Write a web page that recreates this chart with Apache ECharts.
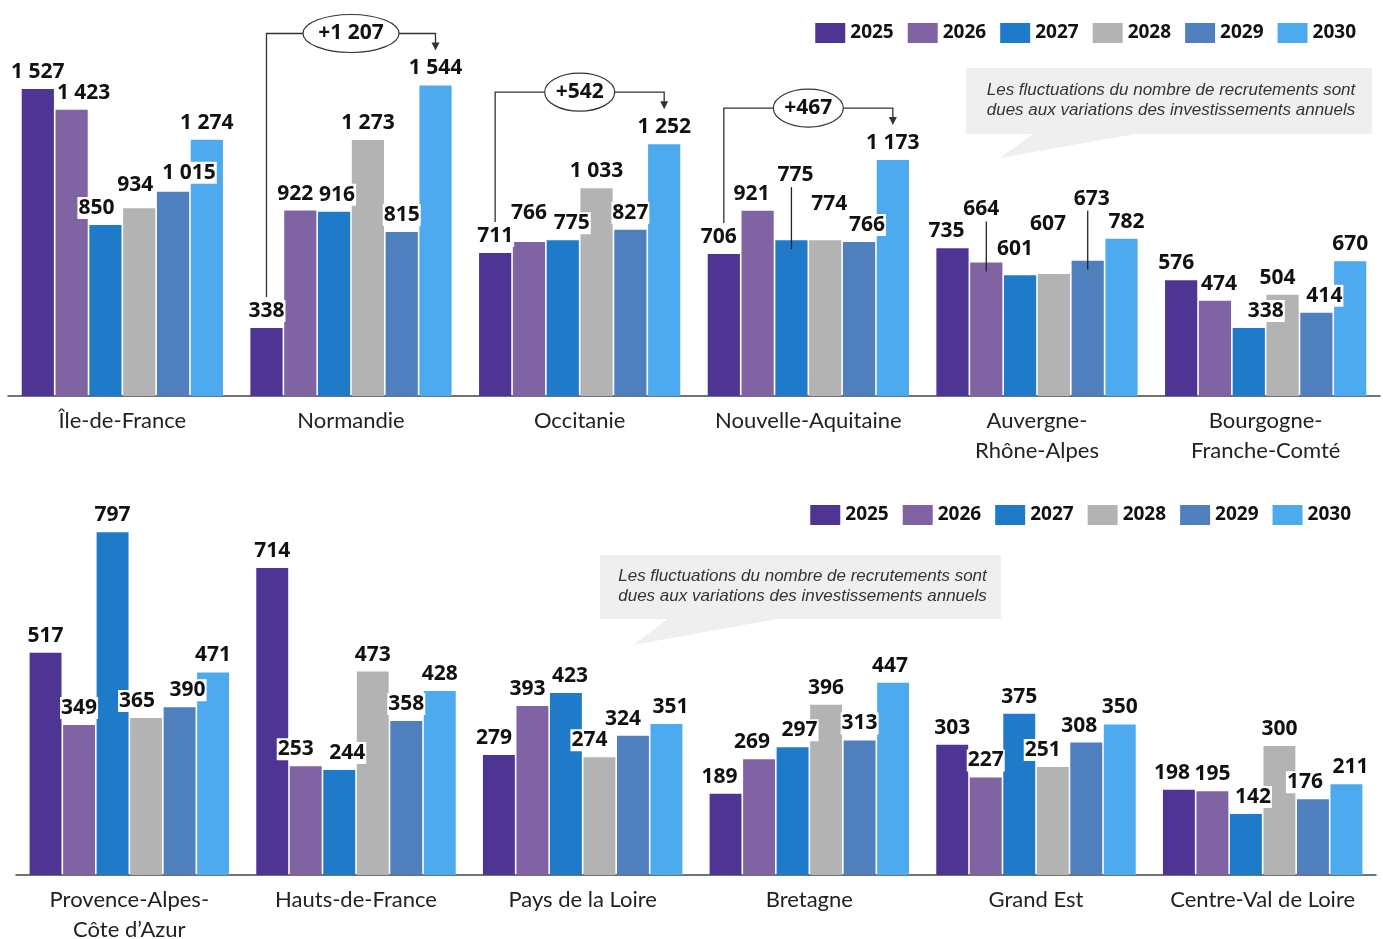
<!DOCTYPE html>
<html>
<head>
<meta charset="utf-8">
<script src="https://cdn.jsdelivr.net/npm/echarts@6/dist/echarts.min.js"></script>
<style>
html,body{margin:0;padding:0;background:#fff;}
#c{width:1383px;height:939px;}
</style>
</head>
<body>
<div id="c"></div>
<script>
// ---------- DATA ----------
const years = ['2025', '2026', '2027', '2028', '2029', '2030'];
const regionsTop = ['Île-de-France', 'Normandie', 'Occitanie', 'Nouvelle-Aquitaine', 'Auvergne-\nRhône-Alpes', 'Bourgogne-\nFranche-Comté'];
const regionsBottom = ['Provence-Alpes-\nCôte d’Azur', 'Hauts-de-France', 'Pays de la Loire', 'Bretagne', 'Grand Est', 'Centre-Val de Loire'];

const top2025 = [1527, 338, 711, 706, 735, 576];
const top2026 = [1423, 922, 766, 921, 664, 474];
const top2027 = [850, 916, 775, 775, 601, 338];
const top2028 = [934, 1273, 1033, 774, 607, 504];
const top2029 = [1015, 815, 827, 766, 673, 414];
const top2030 = [1274, 1544, 1252, 1173, 782, 670];

const bot2025 = [517, 714, 279, 189, 303, 198];
const bot2026 = [349, 253, 393, 269, 227, 195];
const bot2027 = [797, 244, 423, 297, 375, 142];
const bot2028 = [365, 473, 274, 396, 251, 300];
const bot2029 = [390, 358, 324, 313, 308, 176];
const bot2030 = [471, 428, 351, 447, 350, 211];

// annotated increases (region index in top panel, text)
const bracketRegionIdx = [1, 2, 3];
const bracketLabels = ['+1 207', '+542', '+467'];

const noteText = 'Les fluctuations du nombre de recrutements sont\ndues aux variations des investissements annuels';

// ---------- STYLE ----------
const colors = ['#4E3593', '#8063A2', '#1F7BC9', '#B3B3B3', '#4F80BD', '#4DAAEE'];
const topSeries = [top2025, top2026, top2027, top2028, top2029, top2030];
const botSeries = [bot2025, bot2026, bot2027, bot2028, bot2029, bot2030];

// label nudges: key "panel:series:category" -> dx/dy ; leader = draw a guide line
const nudges = {
  't:1:0': {dx: 12}, 't:2:0': {dx: -9}, 't:3:0': {dx: -4, dy: -6}, 't:4:0': {dx: 16, dy: -2},
  't:1:1': {dx: -5}, 't:2:1': {dx: 3},
  't:1:2': {dy: -12}, 't:2:2': {dx: 9},
  't:0:3': {dx: -5}, 't:1:3': {dx: -6}, 't:2:3': {dx: 4, dy: -48, leader: true}, 't:3:3': {dx: 4, dy: -19}, 't:4:3': {dx: 8},
  't:0:4': {dx: -6}, 't:1:4': {dx: -5, dy: -36, leader: true}, 't:2:4': {dx: -5, dy: -9},
  't:3:4': {dx: -6, dy: -33}, 't:4:4': {dx: 4, dy: -45, leader: true}, 't:5:4': {dx: 5},
  't:0:5': {dx: -5}, 't:1:5': {dx: 4}, 't:2:5': {dx: 17}, 't:3:5': {dx: -5}, 't:4:5': {dx: 8},
  'b:3:0': {dx: -9}, 'b:4:0': {dx: 8},
  'b:1:1': {dx: -10}, 'b:2:1': {dx: 8},
  'b:0:2': {dx: -5}, 'b:1:2': {dx: -5}, 'b:2:2': {dx: 4}, 'b:3:2': {dx: -10}, 'b:4:2': {dx: -10}, 'b:5:2': {dx: 4},
  'b:0:3': {dx: -6}, 'b:1:3': {dx: -7}, 'b:2:3': {dx: 7}, 'b:5:3': {dx: -3},
  'b:3:4': {dx: -10}, 'b:4:4': {dx: -7},
  'b:0:5': {dx: -7}, 'b:2:5': {dx: 7}, 'b:4:5': {dx: -8}, 'b:5:5': {dx: 4}
};

function fmt(v) { return String(v).replace(/\B(?=(\d{3})+(?!\d))/g, ' '); }

const boldFont = '"Open Sans"';
function makeSeries(panel, arrs, axisIdx) {
  return arrs.map((arr, si) => ({
    name: years[si],
    type: 'bar',
    xAxisIndex: axisIdx,
    yAxisIndex: axisIdx,
    barGap: '5%',
    barCategoryGap: '12%',
    itemStyle: {color: colors[si]},
    label: {
      show: true,
      position: 'top',
      distance: 6,
      formatter: p => fmt(p.value),
      fontFamily: boldFont,
      fontWeight: 'bold',
      fontSize: 21,
      color: '#111',
      backgroundColor: '#fff',
      padding: [0, 1, 0, 1],
      lineHeight: 22
    },
    data: arr.map((v, ci) => {
      const n = nudges[panel + ':' + si + ':' + ci];
      if (n) return {value: v, label: {offset: [n.dx || 0, n.dy || 0]}};
      return v;
    })
  }));
}

const catAxis = (gi, data) => ({
  type: 'category',
  gridIndex: gi,
  data: data,
  axisTick: {show: false},
  axisLine: {lineStyle: {color: '#444', width: 1.5}},
  axisLabel: {
    fontFamily: 'Lato',
    fontSize: 22,
    color: '#222',
    margin: 10,
    lineHeight: 30,
    interval: 0
  }
});
const valAxis = (gi, max) => ({
  type: 'value', gridIndex: gi, min: 0, max: max, show: false, splitLine: {show: false}
});

const legendBase = {
  data: years,
  icon: 'rect',
  itemWidth: 30,
  itemHeight: 20,
  itemGap: 14,
  selectedMode: false,
  textStyle: {fontFamily: boldFont, fontWeight: 'bold', fontSize: 19, color: '#111'}
};

const chart = echarts.init(document.getElementById('c'), null, {renderer: 'canvas'});
chart.setOption({
  animation: false,
  grid: [
    {left: 8, right: 3, top: 34, height: 362, outerBoundsMode: 'none', containLabel: false},
    {left: 16, right: 7, top: 445, height: 430, outerBoundsMode: 'none', containLabel: false}
  ],
  legend: [
    Object.assign({}, legendBase, {right: 22, top: 18}),
    Object.assign({}, legendBase, {right: 27, top: 500})
  ],
  xAxis: [catAxis(0, regionsTop), catAxis(1, regionsBottom)],
  yAxis: [valAxis(0, 1800), valAxis(1, 1000)],
  series: makeSeries('t', topSeries, 0).concat(makeSeries('b', botSeries, 1))
});

// ---------- annotations computed from the library's layout ----------
function barGeom(si, ci) {
  const data = chart.getModel().getSeriesByIndex(si).getData();
  const l = data.getItemLayout(ci);
  return {cx: l.x + l.width / 2, top: Math.min(l.y, l.y + l.height)};
}

const graphics = [];
const lineStyle = {stroke: '#333', lineWidth: 1.3, fill: null};

// speech bubbles
function bubble(x0, y0, x1, y1, tailR, tipX, tipY, tailL) {
  graphics.push({
    type: 'polygon', z: 1,
    shape: {points: [[x0, y0], [x1, y0], [x1, y1], [tailR, y1], [tipX, tipY], [tailL, y1], [x0, y1]]},
    style: {fill: '#EFEFEF'}
  });
  graphics.push({
    type: 'text', z: 2,
    x: (x0 + x1) / 2 + 2, y: (y0 + y1) / 2 - 1,
    style: {
      text: noteText, fill: '#333', align: 'center', verticalAlign: 'middle',
      font: 'italic 17px "Liberation Sans", Arial', lineHeight: 20
    }
  });
}
bubble(966, 68, 1372, 134, 1135, 1000, 158, 1033);
bubble(600, 555, 1001, 619, 777, 633, 645, 668);

// brackets with ellipses
bracketRegionIdx.forEach((ci, k) => {
  const a = barGeom(0, ci);
  const b = barGeom(5, ci);
  const cx = chart.convertToPixel({xAxisIndex: 0}, ci);
  const yTop = b.top - 52;
  const yBottom = a.top - 31;
  const tip = b.top - 35;
  const rx = bracketLabels[k].length > 4 ? 48 : 35;
  const ry = 19;
  graphics.push({type: 'polyline', z: 5, shape: {points: [[a.cx, yBottom], [a.cx, yTop], [cx - rx, yTop]]}, style: lineStyle});
  graphics.push({type: 'polyline', z: 5, shape: {points: [[cx + rx, yTop], [b.cx, yTop], [b.cx, tip - 6]]}, style: lineStyle});
  graphics.push({type: 'polygon', z: 5, shape: {points: [[b.cx - 4, tip - 8], [b.cx + 4, tip - 8], [b.cx, tip]]}, style: {fill: '#333'}});
  graphics.push({type: 'ellipse', z: 5, shape: {cx: cx, cy: yTop, rx: rx, ry: ry}, style: {fill: '#fff', stroke: '#333', lineWidth: 1.2}});
  graphics.push({
    type: 'text', z: 6, x: cx, y: yTop,
    style: {text: bracketLabels[k], fill: '#111', align: 'center', verticalAlign: 'middle', font: 'bold 21px "Open Sans"'}
  });
});

// leader lines for moved labels
Object.keys(nudges).forEach(key => {
  const n = nudges[key];
  if (!n.leader) return;
  const parts = key.split(':');
  const si = (parts[0] === 't' ? 0 : 6) + (+parts[1]);
  const ci = +parts[2];
  const g = barGeom(si, ci);
  const labelCenter = g.top - 6 - 11 + n.dy;
  graphics.push({type: 'line', z: 5, shape: {x1: g.cx, y1: labelCenter + 12, x2: g.cx, y2: g.top + 9}, style: {stroke: '#222', lineWidth: 1.3}});
});

chart.setOption({graphic: graphics});
</script>
</body>
</html>
